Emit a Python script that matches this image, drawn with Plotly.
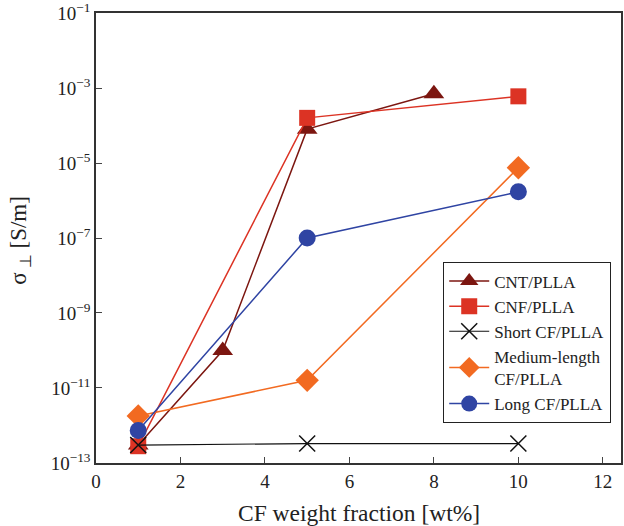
import plotly.graph_objects as go

# Data
cnt_x = [1, 3, 5, 8]
cnt_y = [3.0e-13, 1.0e-10, 8.0e-5, 7.0e-4]
cnf_x = [1, 5, 10]
cnf_y = [2.8e-13, 1.6e-4, 6.0e-4]
short_x = [1, 5, 10]
short_y = [3.0e-13, 3.3e-13, 3.3e-13]
medium_x = [1, 5, 10]
medium_y = [1.8e-12, 1.6e-11, 7.5e-6]
long_x = [1, 5, 10]
long_y = [7.4e-13, 1.0e-7, 1.7e-6]

x_ticks = [0, 2, 4, 6, 8, 10, 12]
y_ticks = [1e-13, 1e-11, 1e-9, 1e-7, 1e-5, 1e-3, 1e-1]
y_tick_labels = ["10<sup>−13</sup>", "10<sup>−11</sup>", "10<sup>−9</sup>", "10<sup>−7</sup>",
                 "10<sup>−5</sup>", "10<sup>−3</sup>", "10<sup>−1</sup>"]

fig = go.Figure()
fig.add_trace(go.Scatter(x=cnt_x, y=cnt_y, name="CNT/PLLA", mode="lines+markers",
                         line=dict(color="#7c1610", width=1.5),
                         marker=dict(symbol="triangle-up", size=18, color="#7c1610")))
fig.add_trace(go.Scatter(x=cnf_x, y=cnf_y, name="CNF/PLLA", mode="lines+markers",
                         line=dict(color="#dc3324", width=1.5),
                         marker=dict(symbol="square", size=16, color="#dc3324")))
fig.add_trace(go.Scatter(x=short_x, y=short_y, name="Short CF/PLLA", mode="lines+markers",
                         line=dict(color="#111111", width=1.2),
                         marker=dict(symbol="x-thin", size=16, color="#111111",
                                     line=dict(color="#111111", width=1.5))))
fig.add_trace(go.Scatter(x=medium_x, y=medium_y, name="Medium-length<br>CF/PLLA", mode="lines+markers",
                         line=dict(color="#f26a21", width=1.5),
                         marker=dict(symbol="diamond", size=18, color="#f26a21")))
fig.add_trace(go.Scatter(x=long_x, y=long_y, name="Long CF/PLLA", mode="lines+markers",
                         line=dict(color="#2f44a3", width=1.5),
                         marker=dict(symbol="circle", size=17, color="#2f44a3")))

font = "Liberation Serif, Times New Roman, serif"
fig.update_layout(
    width=624, height=526,
    margin=dict(l=96, r=3, t=13, b=63, autoexpand=False),
    paper_bgcolor="white", plot_bgcolor="white",
    font=dict(family=font, size=17, color="#222222"),
    showlegend=True,
    legend=dict(x=0.661, y=0.446, xanchor="left", yanchor="top",
                bgcolor="white", bordercolor="#222222", borderwidth=1.2,
                font=dict(family=font, size=17, color="#222222"),
                tracegroupgap=5, itemwidth=40),
    xaxis=dict(range=[0, 12.43], tickvals=x_ticks, ticks="inside", ticklen=6,
               showgrid=False, zeroline=False, showline=True, linecolor="#333333",
               linewidth=1.5, mirror=True, automargin=False, ticklabeloverflow="allow",
               tickfont=dict(size=19)),
    yaxis=dict(type="log", range=[-13.0005, -0.9995], tickvals=y_ticks, ticktext=y_tick_labels,
               ticks="inside", ticklen=6, automargin=False, ticklabeloverflow="allow",
               showgrid=False, zeroline=False, showline=True, linecolor="#333333",
               linewidth=1.5, mirror=True,
               tickfont=dict(size=19)),
    annotations=[
        dict(text="CF weight fraction [wt%]", xref="paper", yref="paper",
             x=0.5, y=-0.111, xanchor="center", yanchor="middle",
             showarrow=False, font=dict(family=font, size=23.5, color="#222222")),
        dict(text="σ<sub> ⊥</sub> [S/m]", xref="paper", yref="paper",
             x=-0.145, y=0.496, xanchor="center", yanchor="middle", textangle=-90,
             showarrow=False, font=dict(family=font, size=23, color="#222222")),
    ],
)

fig.write_html("out.html", config={"displayModeBar": False},
               post_script="document.body.style.margin='0px';")
